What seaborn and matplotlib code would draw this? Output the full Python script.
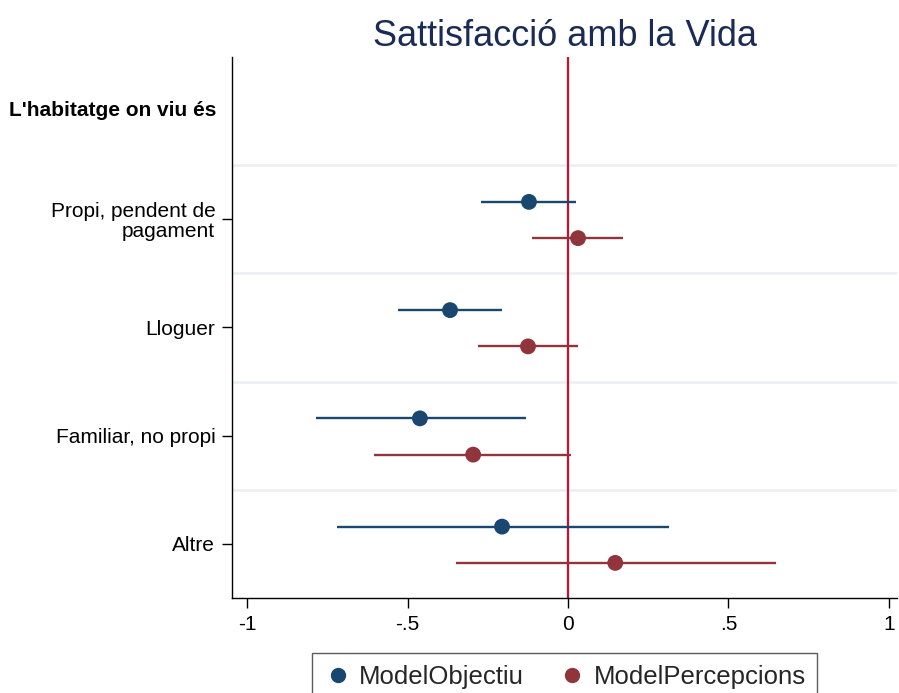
import numpy as np
import pandas as pd
import matplotlib
matplotlib.use("Agg")
import matplotlib.pyplot as plt
import seaborn as sns

# categories (first entry is the group header)
header = "L'habitatge on viu és"
categories = ["Propi, pendent de\npagament", "Lloguer", "Familiar, no propi", "Altre"]
models = ["ModelObjectiu", "ModelPercepcions"]

# coefficients and 95% CI
obj_coef = [-0.122, -0.368, -0.462, -0.206]
obj_lo = [-0.271, -0.530, -0.786, -0.721]
obj_hi = [0.025, -0.206, -0.131, 0.315]
per_coef = [0.031, -0.125, -0.296, 0.147]
per_lo = [-0.112, -0.281, -0.605, -0.349]
per_hi = [0.172, 0.031, 0.009, 0.649]

colors = {"ModelObjectiu": "#1a476f", "ModelPercepcions": "#90353b"}
offsets = {"ModelObjectiu": -0.16, "ModelPercepcions": 0.175}

rows = []
for m, coef, lo, hi in [("ModelObjectiu", obj_coef, obj_lo, obj_hi),
                        ("ModelPercepcions", per_coef, per_lo, per_hi)]:
    for i, cat in enumerate(categories):
        rows.append({"model": m, "cat": cat, "pos": i + 1 + offsets[m],
                     "coef": coef[i], "lo": lo[i], "hi": hi[i]})
df = pd.DataFrame(rows)

sns.set_style("white")
plt.rcParams["font.family"] = ["Liberation Sans", "DejaVu Sans"]

fig = plt.figure(figsize=(8.99, 6.93), dpi=100)
ax = fig.add_axes([0.258, 0.137, 0.740, 0.781])

# group separators
for y in [0.5, 1.5, 2.5, 3.5]:
    ax.axhline(y, color="#e9eff2", lw=1.8, zorder=0)
ax.axvline(0, color="#c8102e", lw=1.6, zorder=1)

for m in models:
    sub = df[df["model"] == m]
    ax.hlines(sub["pos"], sub["lo"], sub["hi"], color=colors[m], lw=1.7, zorder=2)
sns.scatterplot(data=df, x="coef", y="pos", hue="model", palette=colors,
                s=130, edgecolor="none", ax=ax, zorder=3, legend=False)

ax.set_xlim(-1.048, 1.026)
ax.set_ylim(4.5, -0.5)
ax.set_xticks([-1, -0.5, 0, 0.5, 1])
ax.set_xticklabels(["-1", "-.5", "0", ".5", "1"], fontsize=15, color="black")
ax.set_yticks([1, 2, 3, 4])
ax.set_yticklabels(categories, fontsize=15, ha="right", linespacing=1.05, color="black")
ax.tick_params(axis="both", direction="out", length=7, width=1, color="black",
               pad=5, bottom=True, left=True)
ax.text(-0.024, 0, header, transform=ax.get_yaxis_transform(), ha="right",
        va="center", fontsize=15, fontweight="bold", color="black")
ax.set_xlabel("")
ax.set_ylabel("")

for s in ["top", "right"]:
    ax.spines[s].set_visible(False)
for s in ["left", "bottom"]:
    ax.spines[s].set_color("black")
    ax.spines[s].set_linewidth(1.0)

ax.set_title("Sattisfacció amb la Vida", fontsize=26, color="#1a2c55", pad=8)

handles = [plt.Line2D([], [], marker="o", ls="", color=colors[m], markersize=10)
           for m in models]
fig.legend(handles, models, loc="upper center", bbox_to_anchor=(0.628, 0.076),
           ncol=2, frameon=True, fancybox=False, edgecolor="#333333",
           fontsize=18.5, handletextpad=0.3, columnspacing=1.3, borderpad=0.45,
           handlelength=1.1)

fig.savefig("out.png", dpi=100)
